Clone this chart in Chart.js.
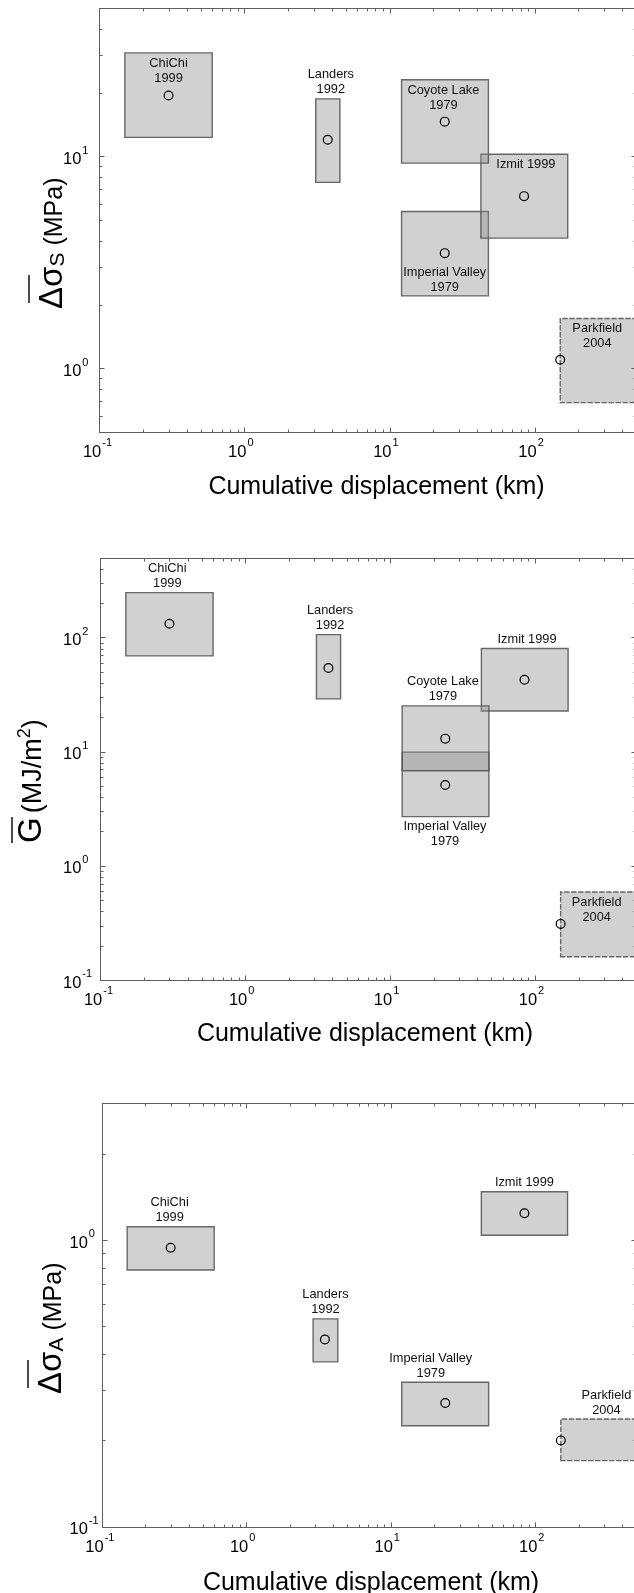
<!DOCTYPE html>
<html>
<head>
<meta charset="utf-8">
<title>Stress drop, fracture energy and apparent stress vs cumulative displacement</title>
<script src="https://cdn.jsdelivr.net/npm/chart.js@4.4.1/dist/chart.umd.min.js"></script>
<style>
  html, body { margin: 0; padding: 0; background: #fff; overflow: hidden; }
  .panel { position: absolute; left: 0; }
  canvas { display: block; }
</style>
</head>
<body>
<div class="panel" style="top:0"><canvas id="stressChart" width="642" height="531"></canvas></div>
<div class="panel" style="top:531px"><canvas id="energyChart" width="642" height="531"></canvas></div>
<div class="panel" style="top:1062px"><canvas id="apparentChart" width="642" height="531"></canvas></div>
<script>
// ===== Earthquakes (same order in every panel) =====
const quakeNames = [['ChiChi', '1999'], ['Landers', '1992'], ['Coyote Lake', '1979'],
                    ['Izmit 1999'], ['Imperial Valley', '1979'], ['Parkfield', '2004']];
const quakeDashed = [false, false, false, false, false, true];   // Parkfield range is open-ended

// cumulative fault displacement (km): best value and range
const dispMid = [0.3, 3.75, 24, 84.5, 24, 150];
const dispLo  = [0.15, 3.1, 12.1, 42.6, 12.1, 150];
const dispHi  = [0.6, 4.55, 48, 169, 48, 600];
// apparent stress panel uses slightly different Landers / Imperial ranges
const dispMidA = [0.3, 3.5, null, 84, 23.8, 150];
const dispLoA  = [0.15, 2.9, null, 42.3, 11.9, 150];
const dispHiA  = [0.6, 4.3, null, 167, 47.5, 600];

// average static stress drop (MPa)
const stressMid = [19.4, 12.0, 14.6, 6.5, 3.5, 1.1];
const stressLo  = [12.3, 7.55, 9.3, 4.12, 2.2, 0.69];
const stressHi  = [30.8, 18.7, 23.0, 10.25, 5.5, 1.72];

// average fracture energy (MJ/m^2)
const energyMid = [132, 54, 13.0, 42.6, 5.1, 0.31];
const energyLo  = [69, 29, 6.8, 22.7, 2.7, 0.16];
const energyHi  = [247, 106, 25.2, 80, 9.9, 0.59];

// average apparent stress (MPa), no Coyote Lake value
const apparentMid = [0.94, 0.45, null, 1.24, 0.27, 0.2];
const apparentLo  = [0.786, 0.376, null, 1.04, 0.225, 0.17];
const apparentHi  = [1.113, 0.531, null, 1.474, 0.319, 0.2375];

// where each event name goes (x in km) and how it sits against its box
const stressLabelX   = [0.3, 3.94, 23.5, 87, 24, 270];
const energyLabelX   = [0.29, 3.85, 23.1, 88, 23.9, 266];
const apparentLabelX = [0.295, 3.53, null, 84, 18.9, 310];
const stressPlace   = ['in-top', 'above', 'in-top', 'in-top', 'in-bottom', 'in-top'];
const energyPlace   = ['above', 'above', 'above', 'above', 'below', 'in-top'];
const apparentPlace = ['above', 'above', null, 'above', 'above', 'above'];

const xMin = 0.1, xMax = 500;
const xTitle = 'Cumulative displacement (km)';

const FONT = '"Liberation Sans", Arial, Helvetica, sans-serif';
const FILL = 'rgba(139,139,139,0.40)';
const EDGE = 'rgba(80,80,80,0.85)';
const AXIS = '#5e5e5e';

// ===== Axis titles =====
function drawStressTitle(ctx, sub, bx, by) {
  ctx.save();
  ctx.translate(bx, by);
  ctx.rotate(-Math.PI / 2);
  ctx.fillStyle = '#000';
  ctx.textAlign = 'left';
  ctx.textBaseline = 'alphabetic';
  ctx.font = '33px ' + FONT;
  ctx.fillText('Δσ', 0, 0);
  let x = ctx.measureText('Δσ').width;
  ctx.font = '21px ' + FONT;
  ctx.fillText(sub, x, 2);
  x += ctx.measureText(sub).width + 7;
  ctx.font = '25px ' + FONT;
  ctx.fillText('(MPa)', x, 0);
  // bar over the averaged quantity
  ctx.strokeStyle = '#000';
  ctx.lineWidth = 1.4;
  ctx.beginPath();
  ctx.moveTo(6, -33);
  ctx.lineTo(34, -33);
  ctx.stroke();
  ctx.restore();
}

function drawEnergyTitle(ctx, bx, by) {
  ctx.save();
  ctx.translate(bx, by);
  ctx.rotate(-Math.PI / 2);
  ctx.fillStyle = '#000';
  ctx.textAlign = 'left';
  ctx.textBaseline = 'alphabetic';
  ctx.font = '33px ' + FONT;
  ctx.fillText('G', 0, 0);
  let x = ctx.measureText('G').width + 4;
  ctx.font = '27px ' + FONT;
  ctx.fillText('(MJ/m', x, 0);
  x += ctx.measureText('(MJ/m').width;
  ctx.font = '18px ' + FONT;
  ctx.fillText('2', x, -11);
  x += ctx.measureText('2').width;
  ctx.font = '27px ' + FONT;
  ctx.fillText(')', x, 0);
  ctx.strokeStyle = '#000';
  ctx.lineWidth = 1.4;
  ctx.beginPath();
  ctx.moveTo(0, -29);
  ctx.lineTo(26, -29);
  ctx.stroke();
  ctx.restore();
}

// ===== Panels =====
const panels = [
  {
    canvas: 'stressChart', yMin: 0.5, yMax: 50,
    mid: stressMid, lo: stressLo, hi: stressHi,
    dMid: dispMid, dLo: dispLo, dHi: dispHi,
    labelX: stressLabelX, place: stressPlace,
    pad: { left: 99.3, top: 8.3, right: 5.9, bottom: 98.7 },
    yLabelLeft: 63, xTitleAt: [376.5, 486.7],
    yTitle: ctx => drawStressTitle(ctx, 'S', 62, 309)
  },
  {
    canvas: 'energyChart', yMin: 0.1, yMax: 500,
    mid: energyMid, lo: energyLo, hi: energyHi,
    dMid: dispMid, dLo: dispLo, dHi: dispHi,
    labelX: energyLabelX, place: energyPlace,
    pad: { left: 100.3, top: 26.7, right: 3.7, bottom: 82 },
    yLabelLeft: 63, xTitleAt: [365, 503],
    yTitle: ctx => drawEnergyTitle(ctx, 41, 312)
  },
  {
    canvas: 'apparentChart', yMin: 0.1, yMax: 3,
    mid: apparentMid, lo: apparentLo, hi: apparentHi,
    dMid: dispMidA, dLo: dispLoA, dHi: dispHiA,
    labelX: apparentLabelX, place: apparentPlace,
    pad: { left: 101.7, top: 41.3, right: 3.9, bottom: 66.3 },
    yLabelLeft: 69.5, xTitleAt: [371, 521],
    yTitle: ctx => drawStressTitle(ctx, 'A', 61, 332)
  }
];

function buildDatasets(p) {
  const sets = [{
    // best estimates, open circles
    data: p.mid.map((v, i) => v == null ? null : { x: p.dMid[i], y: v }).filter(Boolean),
    showLine: false,
    pointRadius: 4.4,
    pointBorderWidth: 1.2,
    pointBorderColor: '#000',
    pointBackgroundColor: 'rgba(0,0,0,0)'
  }];
  p.mid.forEach((v, i) => {
    if (v == null) return;
    const x0 = p.dLo[i], x1 = p.dHi[i], y0 = p.lo[i], y1 = p.hi[i];
    // outline
    sets.push({
      data: [{ x: x0, y: y0 }, { x: x1, y: y0 }, { x: x1, y: y1 }, { x: x0, y: y1 }, { x: x0, y: y0 }],
      showLine: true, fill: false, pointRadius: 0,
      borderColor: EDGE, borderWidth: 1.4,
      borderJoinStyle: 'miter', borderCapStyle: 'square',
      borderDash: quakeDashed[i] ? [4, 3] : []
    });
    // shaded range: top edge filled down to the bottom edge
    sets.push({
      data: [{ x: x0, y: y1 }, { x: x1, y: y1 }],
      showLine: true, fill: '+1', backgroundColor: FILL,
      borderColor: 'rgba(0,0,0,0)', borderWidth: 1, pointRadius: 0
    });
    sets.push({
      data: [{ x: x0, y: y0 }, { x: x1, y: y0 }],
      showLine: true, fill: false,
      borderColor: 'rgba(0,0,0,0)', borderWidth: 1, pointRadius: 0
    });
  });
  return sets;
}

function decadeValues(min, max) {
  const out = [];
  for (let d = Math.floor(Math.log10(min)); d <= Math.ceil(Math.log10(max)); d++) {
    for (let m = 1; m <= 9; m++) {
      const v = m * Math.pow(10, d);
      if (v >= min * 0.999 && v <= max * 1.001) out.push({ v, major: m === 1, exp: d });
    }
  }
  return out;
}

function framePlugin(p) {
  return {
    id: 'logFrame',
    afterDatasetsDraw(chart) {
      const ctx = chart.ctx;
      const a = chart.chartArea;
      const xs = chart.scales.x, ys = chart.scales.y;
      const L = Math.round(a.left) + 0.5, R = Math.round(a.right) + 0.5;
      const T = Math.round(a.top) + 0.5, B = Math.round(a.bottom) + 0.5;
      ctx.save();

      // box and inward ticks on all four sides
      ctx.strokeStyle = AXIS;
      ctx.lineWidth = 1;
      ctx.strokeRect(L, T, R - L, B - T);
      ctx.beginPath();
      decadeValues(xMin, xMax).forEach(t => {
        const px = Math.round(xs.getPixelForValue(t.v)) + 0.5;
        const len = t.major ? 5 : 3;
        ctx.moveTo(px, B); ctx.lineTo(px, B - len);
        ctx.moveTo(px, T); ctx.lineTo(px, T + len);
      });
      decadeValues(p.yMin, p.yMax).forEach(t => {
        const py = Math.round(ys.getPixelForValue(t.v)) + 0.5;
        const len = t.major ? 5 : 3;
        ctx.moveTo(L, py); ctx.lineTo(L + len, py);
        ctx.moveTo(R, py); ctx.lineTo(R - len, py);
      });
      ctx.stroke();

      // tick labels as powers of ten
      ctx.fillStyle = '#000';
      ctx.textBaseline = 'middle';
      decadeValues(xMin, xMax).filter(t => t.major).forEach(t => {
        const px = xs.getPixelForValue(t.v);
        ctx.font = '16.5px ' + FONT;
        ctx.textAlign = 'right';
        ctx.fillText('10', px + 2, B + 20);
        ctx.font = '11px ' + FONT;
        ctx.textAlign = 'left';
        ctx.fillText(String(t.exp), px + 3, B + 10);
      });
      decadeValues(p.yMin, p.yMax).filter(t => t.major).forEach(t => {
        const py = ys.getPixelForValue(t.v);
        ctx.font = '16.5px ' + FONT;
        ctx.textAlign = 'left';
        ctx.fillText('10', p.yLabelLeft, py + 3);
        const w = ctx.measureText('10').width;
        ctx.font = '11px ' + FONT;
        ctx.fillText(String(t.exp), p.yLabelLeft + w + 1, py - 6);
      });

      // event names
      ctx.font = '12.8px ' + FONT;
      ctx.textAlign = 'center';
      ctx.fillStyle = '#111';
      p.place.forEach((mode, i) => {
        if (!mode) return;
        const lines = quakeNames[i];
        const n = lines.length;
        const top = ys.getPixelForValue(p.hi[i]);
        const bot = ys.getPixelForValue(p.lo[i]);
        const x = xs.getPixelForValue(p.labelX[i]);
        lines.forEach((s, k) => {
          let y;
          if (mode === 'in-top') y = top + 10.3 + k * 15;
          else if (mode === 'above') y = top - 9 - (n - 1 - k) * 15;
          else if (mode === 'in-bottom') y = bot - 8.4 - (n - 1 - k) * 15;
          else y = bot + 10.3 + k * 15;
          ctx.fillText(s, x, y);
        });
      });

      // axis titles
      ctx.fillStyle = '#000';
      ctx.font = '25px ' + FONT;
      ctx.textAlign = 'center';
      ctx.fillText(xTitle, p.xTitleAt[0], p.xTitleAt[1]);
      p.yTitle(ctx);
      ctx.restore();
    }
  };
}

panels.forEach(p => {
  const ctx = document.getElementById(p.canvas).getContext('2d');
  new Chart(ctx, {
    type: 'line',
    data: { datasets: buildDatasets(p) },
    options: {
      responsive: false,
      animation: false,
      events: [],
      layout: { padding: p.pad },
      elements: { line: { tension: 0 } },
      scales: {
        x: { type: 'logarithmic', min: xMin, max: xMax, display: false },
        y: { type: 'logarithmic', min: p.yMin, max: p.yMax, display: false }
      },
      plugins: {
        legend: { display: false },
        tooltip: { enabled: false }
      }
    },
    plugins: [framePlugin(p)]
  });
});
</script>
</body>
</html>
